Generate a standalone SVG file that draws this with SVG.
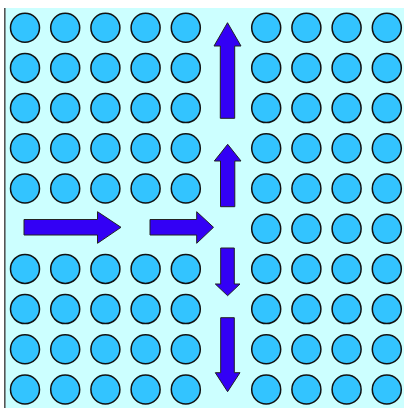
<svg xmlns="http://www.w3.org/2000/svg" xmlns:xlink="http://www.w3.org/1999/xlink" width="404" height="408" viewBox="0 0 404 408">
  <style>
    .dot { fill: #33C4FF; stroke: #111; stroke-width: 1.5; }
    .arrow { fill: #3300F5; stroke: #222; stroke-width: 1; stroke-linejoin: miter; }
  </style>
  <defs>
    <circle id="d" r="14.5" class="dot"/>
  </defs>
  <rect x="0" y="0" width="404" height="408" fill="#ffffff"/>
  <rect x="5" y="8" width="399" height="400" fill="#CCFFFF"/>
  <line x1="4.8" y1="8" x2="4.8" y2="408" stroke="#555" stroke-width="1.6"/>
  <g id="dots">
    <g id="row1" transform="translate(0,27.7)">
      <use href="#d" x="25"/><use href="#d" x="65.2"/><use href="#d" x="105.4"/><use href="#d" x="145.6"/><use href="#d" x="185.8"/>
      <use href="#d" x="266.2"/><use href="#d" x="306.4"/><use href="#d" x="346.6"/><use href="#d" x="386.8"/>
    </g>
    <g id="row2" transform="translate(0,67.9)">
      <use href="#d" x="25"/><use href="#d" x="65.2"/><use href="#d" x="105.4"/><use href="#d" x="145.6"/><use href="#d" x="185.8"/>
      <use href="#d" x="266.2"/><use href="#d" x="306.4"/><use href="#d" x="346.6"/><use href="#d" x="386.8"/>
    </g>
    <g id="row3" transform="translate(0,108.1)">
      <use href="#d" x="25"/><use href="#d" x="65.2"/><use href="#d" x="105.4"/><use href="#d" x="145.6"/><use href="#d" x="185.8"/>
      <use href="#d" x="266.2"/><use href="#d" x="306.4"/><use href="#d" x="346.6"/><use href="#d" x="386.8"/>
    </g>
    <g id="row4" transform="translate(0,148.3)">
      <use href="#d" x="25"/><use href="#d" x="65.2"/><use href="#d" x="105.4"/><use href="#d" x="145.6"/><use href="#d" x="185.8"/>
      <use href="#d" x="266.2"/><use href="#d" x="306.4"/><use href="#d" x="346.6"/><use href="#d" x="386.8"/>
    </g>
    <g id="row5" transform="translate(0,188.5)">
      <use href="#d" x="25"/><use href="#d" x="65.2"/><use href="#d" x="105.4"/><use href="#d" x="145.6"/><use href="#d" x="185.8"/>
      <use href="#d" x="266.2"/><use href="#d" x="306.4"/><use href="#d" x="346.6"/><use href="#d" x="386.8"/>
    </g>
    <g id="row6" transform="translate(0,228.7)">
      <use href="#d" x="266.2"/><use href="#d" x="306.4"/><use href="#d" x="346.6"/><use href="#d" x="386.8"/>
    </g>
    <g id="row7" transform="translate(0,268.9)">
      <use href="#d" x="25"/><use href="#d" x="65.2"/><use href="#d" x="105.4"/><use href="#d" x="145.6"/><use href="#d" x="185.8"/>
      <use href="#d" x="266.2"/><use href="#d" x="306.4"/><use href="#d" x="346.6"/><use href="#d" x="386.8"/>
    </g>
    <g id="row8" transform="translate(0,309.1)">
      <use href="#d" x="25"/><use href="#d" x="65.2"/><use href="#d" x="105.4"/><use href="#d" x="145.6"/><use href="#d" x="185.8"/>
      <use href="#d" x="266.2"/><use href="#d" x="306.4"/><use href="#d" x="346.6"/><use href="#d" x="386.8"/>
    </g>
    <g id="row9" transform="translate(0,349.3)">
      <use href="#d" x="25"/><use href="#d" x="65.2"/><use href="#d" x="105.4"/><use href="#d" x="145.6"/><use href="#d" x="185.8"/>
      <use href="#d" x="266.2"/><use href="#d" x="306.4"/><use href="#d" x="346.6"/><use href="#d" x="386.8"/>
    </g>
    <g id="row10" transform="translate(0,389.5)">
      <use href="#d" x="25"/><use href="#d" x="65.2"/><use href="#d" x="105.4"/><use href="#d" x="145.6"/><use href="#d" x="185.8"/>
      <use href="#d" x="266.2"/><use href="#d" x="306.4"/><use href="#d" x="346.6"/><use href="#d" x="386.8"/>
    </g>
  </g>
  <g id="arrows">
    <polygon id="right-1" class="arrow" points="24,219.5 97.5,219.5 97.5,211.7 121,227.3 97.5,243.3 97.5,235 24,235"/>
    <polygon id="right-2" class="arrow" points="150,219.5 196.7,219.5 196.7,211.7 213.5,227.3 196.7,243.3 196.7,235 150,235"/>
    <polygon id="up-big" class="arrow" points="220.3,118.3 220.3,46 214,46 227.5,22.7 241,46 234.7,46 234.7,118.3"/>
    <polygon id="up-small" class="arrow" points="220.5,206.7 220.5,161 214.3,161 227.7,144.3 241,161 234.8,161 234.8,206.7"/>
    <polygon id="down-small" class="arrow" points="220.7,248 234.3,248 234.3,284 240,284 227.6,295.7 215.3,284 220.7,284"/>
    <polygon id="down-big" class="arrow" points="220.7,317.7 234.3,317.7 234.3,372.7 240,372.7 227.6,391.7 215.3,372.7 220.7,372.7"/>
  </g>
</svg>
